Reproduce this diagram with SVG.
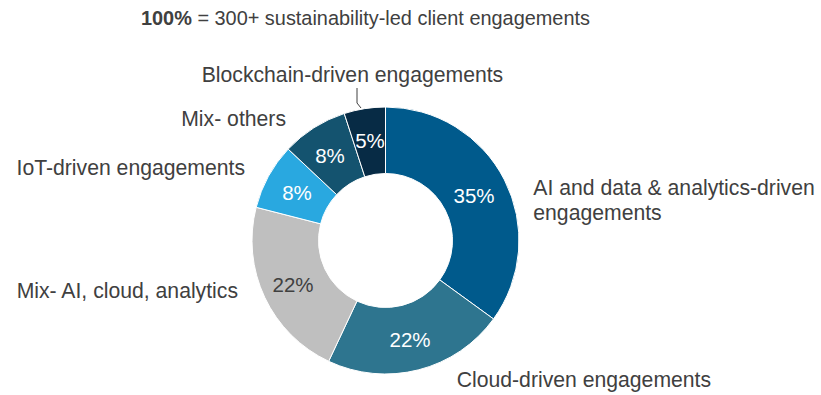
<svg xmlns="http://www.w3.org/2000/svg" width="821" height="395" viewBox="0 0 821 395">
<style>
.lbl{font-family:"Liberation Sans",Arial,sans-serif;font-size:21.2px;fill:#404040}
.pct{font-family:"Liberation Sans",Arial,sans-serif;font-size:20.5px;fill:#ffffff;text-anchor:middle}
.seg path{stroke:#ffffff;stroke-width:1}
</style>
<rect width="821" height="395" fill="#ffffff"/>
<text class="lbl" x="141" y="25" style="font-size:19.9px"><tspan font-weight="bold">100%</tspan> = 300+ sustainability-led client engagements</text>
<g id="connectors">
<polyline points="357,88 357,103 361,108" fill="none" stroke="#404040" stroke-width="1"/>
</g>
<g class="seg">
<g id="ai"><path d="M385.5,107 A133.5,133.5 0 0 1 493.5,318.97 L439.7,279.88 A67,67 0 0 0 385.5,173.5 Z" fill="#005A8C"/><text class="pct" x="474" y="203">35%</text></g>
<g id="cloud"><path d="M493.5,318.97 A133.5,133.5 0 0 1 328.66,361.29 L356.97,301.12 A67,67 0 0 0 439.7,279.88 Z" fill="#2E758F"/><text class="pct" x="410" y="347">22%</text></g>
<g id="mixai"><path d="M328.66,361.29 A133.5,133.5 0 0 1 256.19,207.3 L320.61,223.84 A67,67 0 0 0 356.97,301.12 Z" fill="#BFBFBF"/><text class="pct" x="293" y="292" style="fill:#404040">22%</text></g>
<g id="iot"><path d="M256.19,207.3 A133.5,133.5 0 0 1 288.18,149.11 L336.66,194.64 A67,67 0 0 0 320.61,223.84 Z" fill="#29A8E0"/><text class="pct" x="297" y="200">8%</text></g>
<g id="others"><path d="M288.18,149.11 A133.5,133.5 0 0 1 344.25,113.53 L364.8,176.78 A67,67 0 0 0 336.66,194.64 Z" fill="#14536F"/><text class="pct" x="330" y="163">8%</text></g>
<g id="blockchain"><path d="M344.25,113.53 A133.5,133.5 0 0 1 385.5,107 L385.5,173.5 A67,67 0 0 0 364.8,176.78 Z" fill="#072B45"/><text class="pct" x="370" y="148">5%</text></g>
</g>
<g id="labels">
<text class="lbl" x="201.7" y="81.7">Blockchain-driven engagements</text>
<text class="lbl" x="286" y="126" text-anchor="end">Mix- others</text>
<text class="lbl" x="245" y="175" text-anchor="end">IoT-driven engagements</text>
<text class="lbl" x="238" y="298" text-anchor="end">Mix- AI, cloud, analytics</text>
<text class="lbl" x="533.3" y="195">AI and data &amp; analytics-driven</text>
<text class="lbl" x="533.3" y="220">engagements</text>
<text class="lbl" x="456.7" y="386.7">Cloud-driven engagements</text>
</g>
</svg>
